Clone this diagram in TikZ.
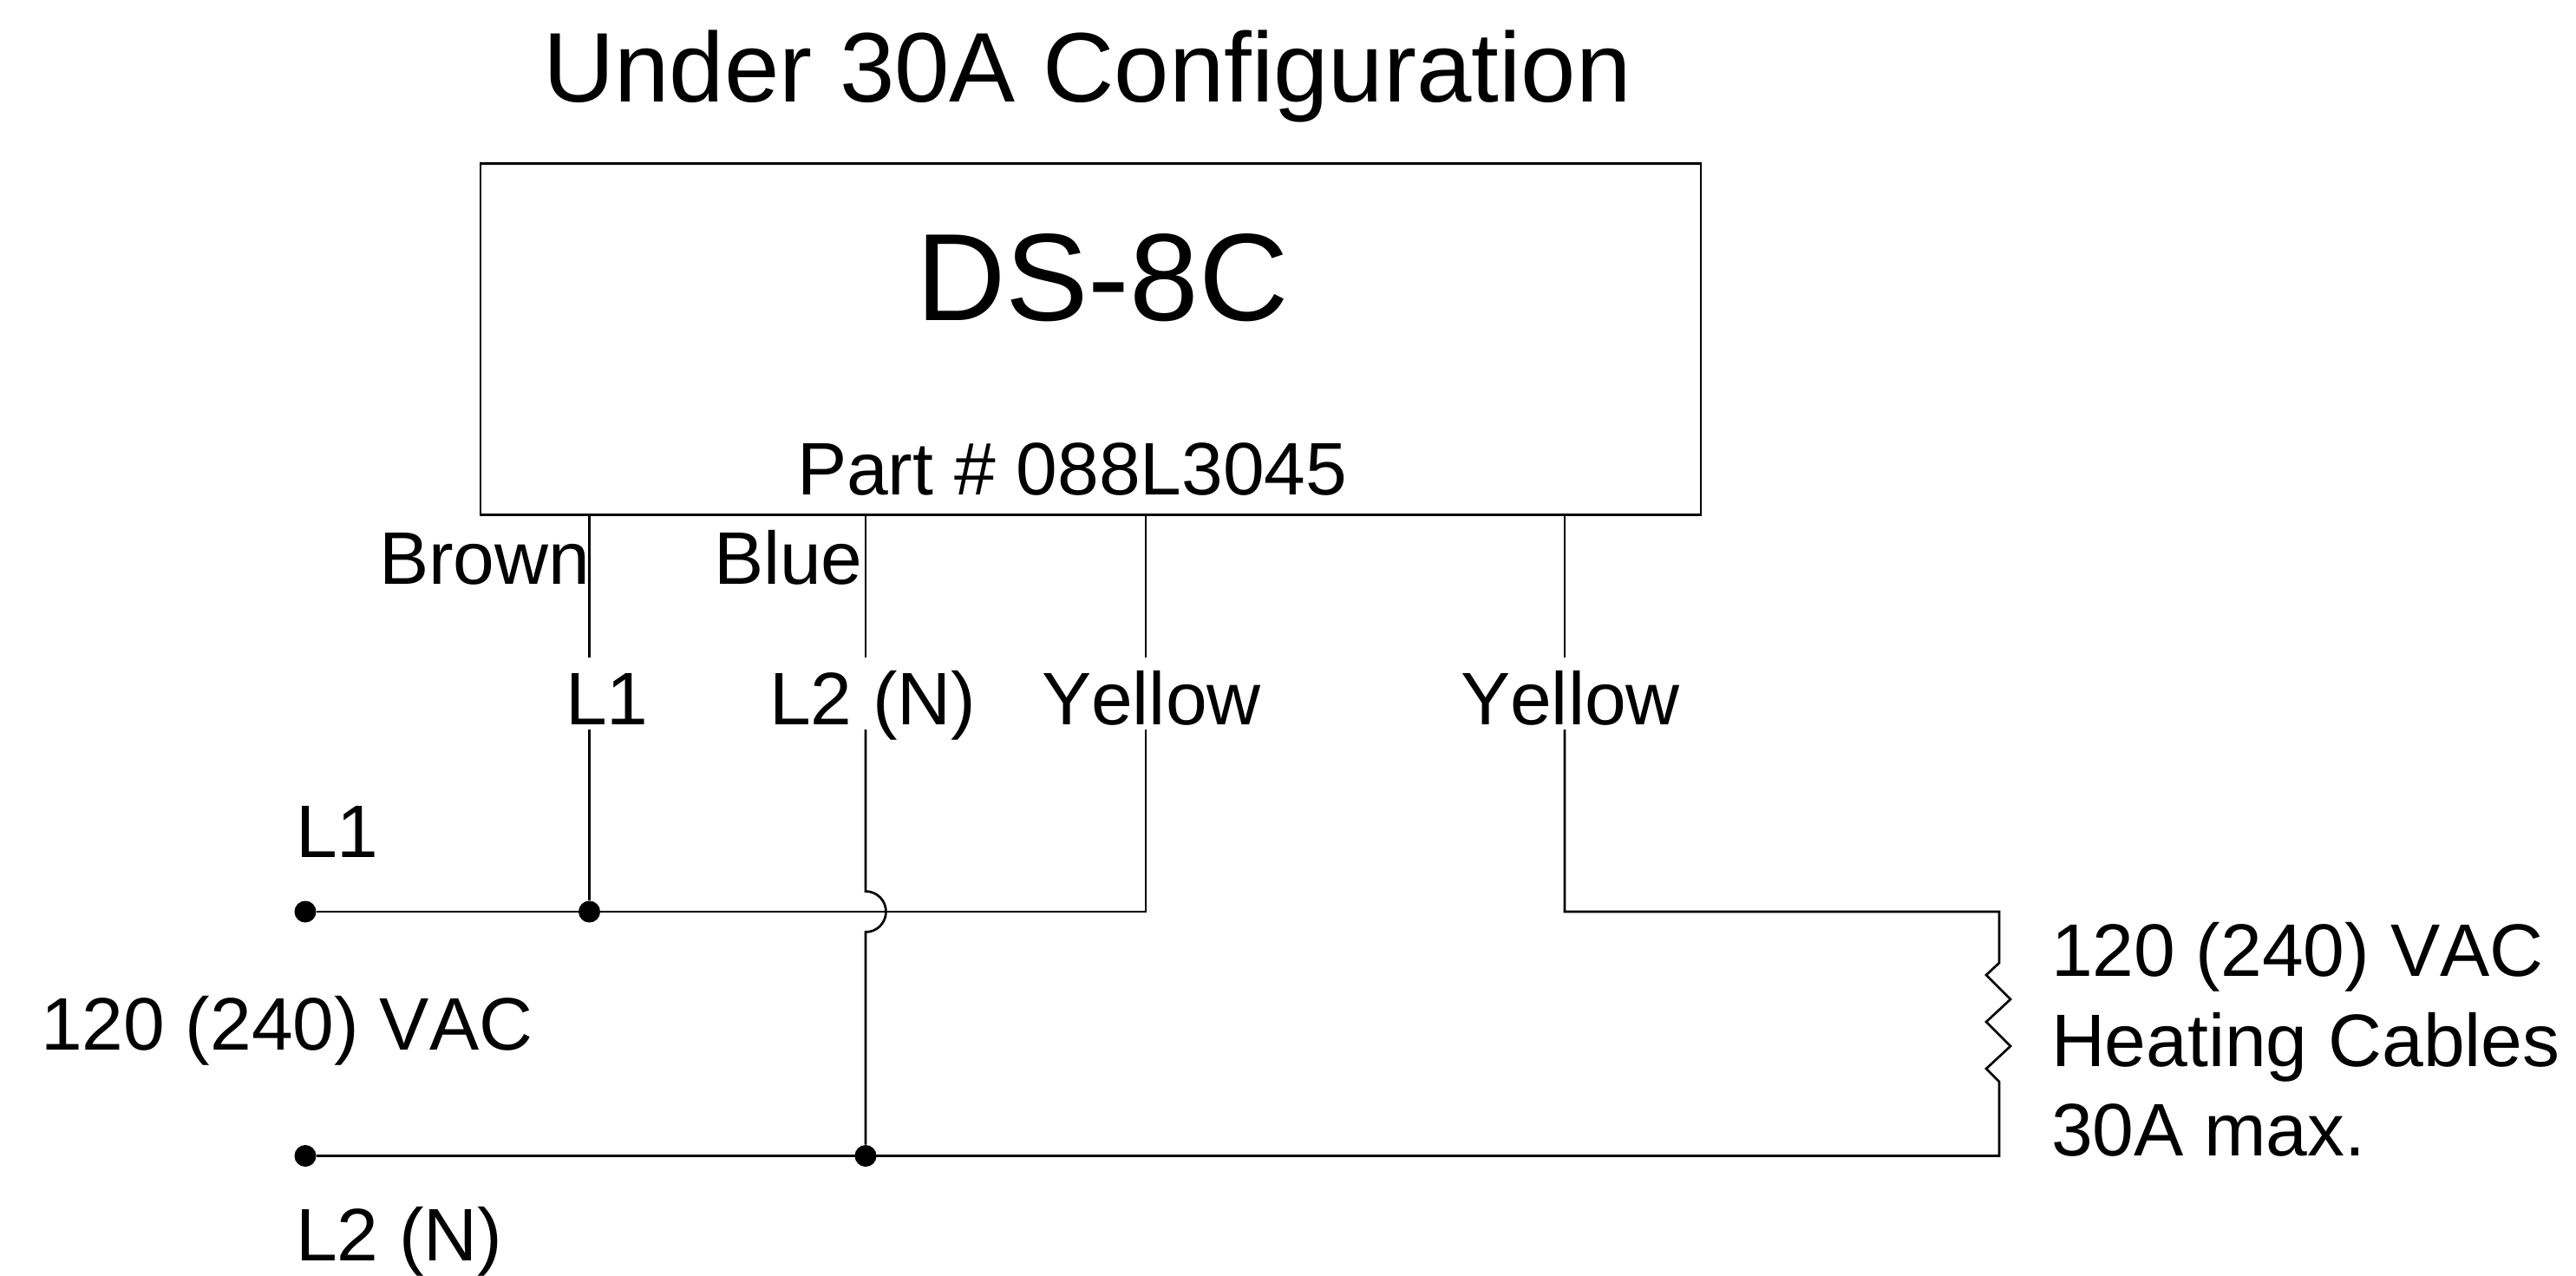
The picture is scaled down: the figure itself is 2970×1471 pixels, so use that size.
\documentclass[tikz,border=0pt]{standalone}
\usepackage{fontspec}
\setmainfont[Kerning=Off]{Liberation Sans}
\begin{document}
\begin{tikzpicture}[x=0.5pt,y=-0.5pt,
  lbl/.style={inner sep=0pt,outer sep=0pt,anchor=base west,font=\fontsize{42.9}{48}\selectfont},
  gaplbl/.style={lbl,text height=38.5pt,text depth=3pt},
  wire/.style={line width=1.35pt,line join=miter,line cap=butt},
  jdot/.style={circle,fill=black,draw=none,inner sep=0pt,minimum size=12.5pt}]
\useasboundingbox (0,0) rectangle (2970,1471);
\node[lbl,font=\fontsize{57}{64}\selectfont] (title) at (626,118) {Under 30A Configuration};
\node[draw,line width=1.35pt,minimum width=703.5pt,minimum height=202.25pt,inner sep=0pt,anchor=north west] (box) at (552.5,187.5) {};
\node[lbl,font=\fontsize{71.6}{80}\selectfont] (ds) at (1056,369) {DS-8C};
\node[lbl] (part) at (919,570) {Part \# 088L3045};
\node[lbl] (brown) at (437,673) {Brown};
\node[lbl] (blue) at (823,673) {Blue};
\node[gaplbl] (ll) at (652,835) {L1};
\node[gaplbl] (ln) at (887,835) {L2 (N)};
\node[gaplbl] (ya) at (1201,835) {Yellow};
\node[gaplbl] (yb) at (1684,835) {Yellow};
\node[lbl] (topl) at (341,988) {L1};
\node[lbl] (vac) at (47,1210) {120 (240) VAC};
\node[lbl] (botl) at (341,1453) {L2 (N)};
\node[lbl] (ra) at (2365,1125) {120 (240) VAC};
\node[lbl] (rb) at (2365,1229) {Heating Cables};
\node[lbl] (rc) at (2365,1332) {30A max.};
\node[jdot] (a) at (352,1051) {};
\node[jdot] (b) at (352,1332.5) {};
\node[jdot] (j1) at (679.5,1051) {};
\node[jdot] (j2) at (998,1332.5) {};
\coordinate (w1) at (679.5,592);
\coordinate (w2) at (998,592);
\coordinate (w3) at (1321,592);
\coordinate (w4) at (1804,592);
\coordinate (arcTop) at (998,1027.5);
\coordinate (arcBot) at (998,1074.5);
\coordinate (c3) at (1321,1051);
\coordinate (c4) at (1804,1051);
\coordinate (rt) at (2305,1051);
\coordinate (rbtm) at (2305,1332.5);
\begin{scope}[wire]
\draw (w1) -- (w1 |- ll.north);
\draw (w1 |- ll.south) -- (j1);
\draw (w2) -- (w2 |- ln.north);
\draw (w2 |- ln.south) -- (arcTop) arc[start angle=-90,end angle=90,radius=23.5] -- (j2);
\draw (w3) -- (w3 |- ya.north);
\draw (w3 |- ya.south) -- (c3) -- (a);
\draw (w4) -- (w4 |- yb.north);
\draw (w4 |- yb.south) -- (c4) -- (rt) -- (2305,1110) -- (2290,1124) -- (2318,1152) -- (2290,1178) -- (2318,1206) -- (2290,1232) -- (2305,1247) -- (rbtm) -- (b);
\end{scope}
\end{tikzpicture}
\end{document}
